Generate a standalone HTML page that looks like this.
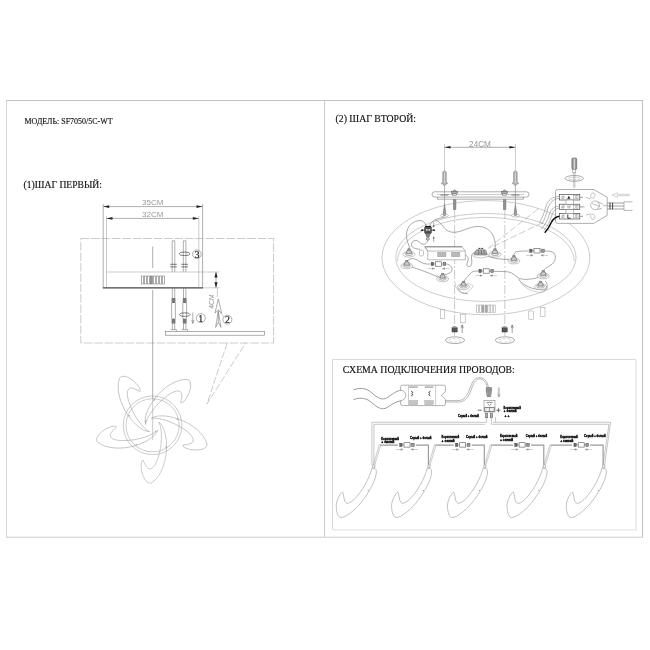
<!DOCTYPE html>
<html lang="ru">
<head>
<meta charset="utf-8">
<title>SF7050/5C-WT</title>
<style>
html,body{margin:0;padding:0;background:#fff;}
body{width:650px;height:650px;overflow:hidden;font-family:"Liberation Serif",serif;}
svg{display:block;position:absolute;left:0;top:0;}
svg{filter:grayscale(1);}
.ser{font-family:"Liberation Serif",serif;fill:#111;stroke:#111;stroke-width:.15;}
.cad{font-family:"Liberation Sans",sans-serif;fill:#999;}
.lbl{font-family:"Liberation Sans",sans-serif;font-weight:bold;fill:#000;stroke:#000;stroke-width:.3;}
.l{fill:none;stroke:#777;stroke-width:.6;}
.ll{fill:none;stroke:#999;stroke-width:.5;}
.d{fill:none;stroke:#444;stroke-width:.7;}
.k{fill:#222;stroke:none;}
</style>
</head>
<body>
<svg width="650" height="650" viewBox="0 0 650 650">
<defs>
  <path id="petal" d="M 6.2,-3.3 C 11,0 14,10 14,22 C 14,36 8,52 -1,57.5 C -6,60 -11.5,50 -11.5,40 C -11.5,37 -10.5,35 -9.6,34.8 C -8,38 -6,43 -3,43.5 C 2,44 6,34 8,22 C 9.5,12 9,2 6.2,-3.3 Z"/>
  <path id="swoosh" d="M 0,0 C 2,0.5 3,2 2.6,5 C 2,12 -4,24 -13.5,35.6 C -20,43 -28,49.5 -32.7,49.5 C -36,49.5 -37.5,43 -37.4,37.2 C -37,31 -33,25 -31.2,24.1 C -30.5,25 -30,28 -29.5,31 C -29,34 -27.5,35.5 -25.9,35.3 C -21,34.5 -14,26 -8.9,17.2 C -5,10 -2.5,4 -1.9,0.3 Z"/>
</defs>

<!-- ===== FRAME ===== -->
<g id="frame" fill="none" stroke-width="1">
  <line x1="6" y1="100.5" x2="643" y2="100.5" stroke="#c2c2c2"/>
  <line x1="6.5" y1="100.5" x2="6.5" y2="537.5" stroke="#d6d6d6"/>
  <line x1="642.5" y1="100.5" x2="642.5" y2="537.5" stroke="#bebebe"/>
  <line x1="6" y1="537.2" x2="643" y2="537.2" stroke="#cdcdcd"/>
  <line x1="324.5" y1="100.5" x2="324.5" y2="537.2" stroke="#cacaca"/>
  <path d="M332.5,530 V359.5 H636" stroke="#dadada"/>
  <path d="M636,359.5 V529.9 H332.5" stroke="#e6e6e6" stroke-width="1.3"/>
</g>

<!-- ===== TITLES ===== -->
<text class="ser" x="24.5" y="124" font-size="8.6" textLength="88" lengthAdjust="spacingAndGlyphs">МОДЕЛЬ: SF7050/5C-WT</text>
<text class="ser" x="23.6" y="188" font-size="10" textLength="78.4" lengthAdjust="spacingAndGlyphs">(1)ШАГ ПЕРВЫЙ:</text>
<text class="ser" x="335.5" y="122" font-size="10" textLength="80.5" lengthAdjust="spacingAndGlyphs">(2) ШАГ ВТОРОЙ:</text>
<text class="ser" x="342.8" y="373" font-size="10" textLength="172" lengthAdjust="spacingAndGlyphs">СХЕМА ПОДКЛЮЧЕНИЯ ПРОВОДОВ:</text>

<!-- ===== STEP 1 ===== -->
<g id="step1">
  <!-- dimension text -->
  <text class="cad" x="152.7" y="205" font-size="8" text-anchor="middle">35CM</text>
  <text class="cad" x="152.7" y="216.8" font-size="8" text-anchor="middle">32CM</text>
  <!-- 35cm dim -->
  <line class="l" x1="103.2" y1="206.6" x2="202.5" y2="206.6"/>
  <path class="k" d="M103.2,206.6 l6,-1.3 v2.6z M202.5,206.6 l-6,-1.3 v2.6z"/>
  <line class="l" x1="106.5" y1="218.4" x2="198.8" y2="218.4"/>
  <path class="k" d="M106.5,218.4 l6,-1.3 v2.6z M198.8,218.4 l-6,-1.3 v2.6z"/>
  <!-- housing verticals -->
  <path class="l" d="M103.2,204 V287.6 M202.6,204 V287.6"/>
  <path class="ll" d="M106.5,216 V287 M198.8,216 V287"/>
  <!-- housing top/bottom -->
  <line class="ll" x1="106.5" y1="272" x2="219.5" y2="272"/>
  <line x1="102.8" y1="287.8" x2="203" y2="287.8" stroke="#444" stroke-width="1.2"/>
  <line class="ll" x1="203" y1="287.8" x2="219.5" y2="287.8"/>
  <!-- vertical 4cm dim arrows -->
  <line class="l" x1="216" y1="272" x2="216" y2="287.8"/>
  <path class="k" d="M216,272 l-1.6,5.6 h3.2z M216,287.8 l-1.6,-5.6 h3.2z"/><path class="ll" d="M217.4,288 V297" stroke="#bbb"/><path class="ll" d="M219.6,311.5 L224,317" stroke="#999"/>
  <!-- vent slots -->
  <g class="l" stroke-width=".5" stroke="#a0a0a0">
    <rect x="141.5" y="276" width="2" height="8"/><rect x="144.5" y="276" width="2" height="8"/><rect x="147.5" y="276" width="2" height="8"/>
    <rect x="150.3" y="276" width="2" height="8" fill="#999"/><rect x="153.3" y="276" width="2" height="8"/><rect x="156.3" y="276" width="2" height="8"/>
    <rect x="159.3" y="276" width="2" height="8"/><rect x="162.3" y="276" width="2" height="8"/>
  </g>
  <!-- dashed rectangle -->
  <rect class="ll" x="80.8" y="238.5" width="192.8" height="104.5" stroke-dasharray="8.6 1.8" stroke="#909090"/>
  <!-- centre line -->
  <line class="l" x1="152.7" y1="246.5" x2="152.7" y2="268"/>
  <line class="l" x1="152.7" y1="290" x2="152.7" y2="399" stroke-width=".5" stroke="#999"/><line class="ll" x1="152.7" y1="399" x2="152.7" y2="440" stroke="#bbb" stroke-width=".4"/>
  <!-- upper rods -->
  <path class="l" d="M172.2,240.8 V271.8 M174.8,240.8 V271.8 M172.2,240.8 H174.8 M183.3,240.8 V271.8 M185.9,240.8 V271.8 M183.3,240.8 H185.9"/>
  <path class="d" d="M170.2,264.3 H176.8 M170.2,266.9 H176.8 M181.3,264.3 H187.9 M181.3,266.9 H187.9"/>
  <!-- rotate ellipse + 3 -->
  <ellipse class="d" cx="184.6" cy="253.8" rx="5.4" ry="1.8" stroke-width=".6"/>
  <circle class="l" cx="196.9" cy="254.2" r="4.3" fill="#fff"/>
  <text class="ser" x="196.9" y="257.6" font-size="10" text-anchor="middle">3</text>
  <!-- lower rods -->
  <g id="rodlow">
    <path class="l" d="M172.3,288 V298 M174.7,288 V298 M171.6,303 V318.6 M175.4,303 V318.6 M172.3,323.5 V329.6 M174.7,323.5 V329.6 M170.6,329.6 H176.4 V331.3"/>
    <rect x="171.6" y="298" width="3.8" height="5" fill="#777"/>
    <rect x="171.6" y="318.6" width="3.8" height="5" fill="#777"/>
  </g>
  <use href="#rodlow" x="11.2"/>
  <!-- ellipse + arrow + 1 -->
  <ellipse class="d" cx="184.7" cy="314.6" rx="5.4" ry="1.8" stroke-width=".6"/>
  <path class="l" d="M192.8,312.5 V323 M192.8,323.5 l-1.1,-3.6 M192.8,323.5 l1.1,-3.6"/>
  <circle class="l" cx="200.8" cy="318.1" r="4.5"/>
  <text class="ser" x="200.8" y="321.5" font-size="10" text-anchor="middle">1</text>
  <circle class="l" cx="227.4" cy="319.6" r="4.5"/>
  <text class="ser" x="227.4" y="323" font-size="10" text-anchor="middle">2</text>
  <!-- 4CM rotated -->
  <text class="cad" transform="translate(214.3,308.8) rotate(-90)" font-size="6.8" fill="#aaa">4CM</text>
  <!-- up arrow (feathered) -->
  <path class="l" stroke="#888" d="M218.3,298.8 L215,313 L218.3,310 L221.6,313 Z M218.3,310 V322.5 M218.3,311.5 L215.6,327.4 L218.3,322.5 L221,327.4 Z"/>
  <!-- mounting plate -->
  <rect class="l" x="165.4" y="331.4" width="99.2" height="3.8" stroke="#a0a0a0"/>
  <!-- callout -->
  <path class="ll" d="M227.2,343 L207,404 L245.5,343" stroke-dasharray="7 2" stroke="#999"/>
</g>

<!-- flower -->
<g id="flower" class="ll" transform="translate(152.6,425.3)" stroke="#8c8c8c">
  <circle r="29.3"/><circle r="26.6"/>
  <g id="pt"><use href="#petal"/><circle cx="13.4" cy="21.6" r=".55" fill="#777" stroke="none"/></g>
  <use href="#pt" transform="rotate(72)"/>
  <use href="#pt" transform="rotate(144)"/>
  <use href="#pt" transform="rotate(216)"/>
  <use href="#pt" transform="rotate(288)"/>
  <circle cx="-6.8" cy="-4.3" r=".6" fill="#777" stroke="none"/><circle cx="2.8" cy="6.2" r=".5" fill="#999" stroke="none"/><circle cx="0" cy=".5" r=".4" fill="#999" stroke="none"/>
</g>


<!-- ===== STEP 2 ===== -->
<defs>
  <g id="standoff">
    <ellipse cx="0" cy="1.4" rx="6" ry="2.9" fill="#fff" stroke="#8a8a8a" stroke-width=".5"/>
    <ellipse cx="0" cy="1" rx="4" ry="1.8" fill="#eee" stroke="#777" stroke-width=".5"/>
    <path d="M-2.6,.8 L-2,-2.2 Q0,-3.4 2,-2.2 L2.6,.8 Z" fill="#ccc" stroke="#555" stroke-width=".55"/>
    <path d="M-1.2,-2.6 V-4 H1.2 V-2.6" fill="#999" stroke="#555" stroke-width=".5"/>
  </g>
  <g id="conn">
    <rect x="-7.3" y="-1.7" width="2.4" height="3.4" fill="#666" stroke="#444" stroke-width=".4"/>
    <rect x="-3" y="-2.2" width="6" height="4.4" fill="#fff" stroke="#555" stroke-width=".6"/>
    <rect x="4.7" y="-1.7" width="2.6" height="3.4" fill="#999" stroke="#444" stroke-width=".4"/>
    <path d="M-4.9,0 H-3 M3,0 H4.7" stroke="#555" stroke-width=".6"/>
    <path d="M-11,4.6 H-4 M-4,4.6 l-2.2,-.8 v1.6z M11,4.6 H4 M4,4.6 l2.2,-.8 v1.6z" stroke="#999" stroke-width=".45" fill="#777"/>
  </g>
  <g id="plug">
    <path d="M-1.7,.6 Q0,-1 1.7,.6 V10 L3.1,12.2 L1.2,12.8 L0,14.6 L-1.2,12.8 L-3.1,12.2 L-1.7,10 Z" fill="#b8b8b8" stroke="#777" stroke-width=".6"/>
    <path d="M0,1 V11" stroke="#e4e4e4" stroke-width="1"/>
    <path d="M-1.7,2.5 H1.7 M-1.7,4.5 H1.7 M-1.7,6.5 H1.7 M-1.7,8.5 H1.7" stroke="#999" stroke-width=".4"/>
  </g>
  <g id="screwup">
    <path d="M0,-.6 L-1.2,7 V9.6 H1.2 V7 Z" fill="#999" stroke="#666" stroke-width=".5"/>
    <ellipse cx="0" cy="10.4" rx="4.2" ry="1.4" fill="#fff" stroke="#888" stroke-width=".5"/>
    <path d="M-1.4,10 H1.4" stroke="#555" stroke-width=".8"/>
  </g>
  <g id="bolt">
    <path d="M-1.8,-6 Q0,-9 1.8,-6 Z" fill="#ccc" stroke="#666" stroke-width=".5"/>
    <rect x="-2.9" y="-6" width="5.8" height="2.2" fill="#aaa" stroke="#555" stroke-width=".5"/>
    <rect x="-2.1" y="-3.8" width="4.2" height="1.8" fill="#ddd" stroke="#666" stroke-width=".5"/>
  </g>
  <g id="nutlow">
    <rect x="-2.6" y="-2.2" width="5.2" height="4.2" fill="#555" stroke="#333" stroke-width=".5"/>
    <path d="M-2.6,-2.2 L-1.6,-3.2 H1.6 L2.6,-2.2" fill="#999" stroke="#444" stroke-width=".4"/>
    <path d="M7.6,3 V-5 M7.6,-5.2 l-1.2,3.4 M7.6,-5.2 l1.2,3.4" fill="none" stroke="#666" stroke-width=".6"/>
    <ellipse cx=".4" cy="10.2" rx="9.6" ry="3.4" fill="none" stroke="#777" stroke-width=".6"/>
    <ellipse cx=".4" cy="10.4" rx="6.4" ry="1.8" fill="none" stroke="#aaa" stroke-width=".5" stroke-dasharray="3 1.5"/>
  </g>
</defs>
<g id="step2">
  <!-- dim 24cm -->
  <text class="cad" x="480" y="146.6" font-size="8.2" text-anchor="middle">24CM</text>
  <line class="l" x1="444.5" y1="147.3" x2="515.4" y2="147.3"/>
  <path class="k" d="M444.5,147.3 l6,-1.3 v2.6z M515.4,147.3 l-6,-1.3 v2.6z"/>
  <path class="ll" d="M444.5,144 V172 M515.4,144 V172 M444.5,186 V205 M515.4,186 V205"/>
  <!-- dish ellipses -->
  <ellipse class="ll" cx="485.9" cy="257.7" rx="103.9" ry="57.1" stroke="#a4a4a4" stroke-width=".5"/>
  <ellipse class="ll" cx="485.9" cy="257.5" rx="90.1" ry="44" stroke="#a8a8a8" stroke-width=".5"/>
  <path class="ll" d="M397.6,261 A88.3,43.6 0 0 1 574.2,261" stroke="#b0b0b0" stroke-width=".45"/>
  <!-- pegs -->
  <g class="ll" fill="#fff" stroke="#888">
    <rect x="440.5" y="309.8" width="4.3" height="8.7"/>
    <rect x="460.5" y="314.2" width="4.7" height="8.6"/>
    <rect x="528.8" y="311" width="4.9" height="8.5"/>
    <rect x="540.2" y="307.7" width="4.8" height="8.6"/>
  </g>
  <!-- vent -->
  <g class="ll" stroke="#888">
    <rect x="476.6" y="305" width="2" height="7.6"/><rect x="479.3" y="305" width="2" height="7.6"/><rect x="482" y="305" width="2" height="7.6" fill="#aaa"/>
    <rect x="485.2" y="305" width="2" height="7.6" fill="#aaa"/><rect x="487.9" y="305" width="2" height="7.6"/><rect x="490.6" y="305" width="2" height="7.6"/><rect x="493.3" y="305" width="2" height="7.6"/>
  </g>
  <!-- dash-dot verticals -->
  <path class="ll" d="M454.6,210 V336 M504.8,210 V336" stroke-dasharray="9 2 2 2" stroke="#808080"/>
  <!-- bracket bar -->
  <path d="M437.5,197 V199.2 H523.4 V197" class="l" fill="#fff"/>
  <rect x="432" y="191.8" width="97" height="5.3" rx="2.6" ry="2.6" fill="#fff" class="l"/>
  <path class="ll" d="M437,194.5 H524"/><path d="M440.4,195 H448.4 M511.4,195 H519.4" stroke="#555" stroke-width=".8"/>
  <path class="ll" d="M444.6,186 V205 M515.4,186 V205" stroke="#999"/>
  <!-- bolts -->
  <use href="#bolt" x="454.6" y="197.2"/>
  <use href="#bolt" x="504.6" y="197.2"/>
  <rect x="453.2" y="199.4" width="2.8" height="10.4" fill="#929292" stroke="#777" stroke-width=".4"/>
  <rect x="503.2" y="199.4" width="2.8" height="10.4" fill="#929292" stroke="#777" stroke-width=".4"/>
  <!-- plugs -->
  <use href="#plug" x="444.5" y="171.4"/>
  <use href="#plug" x="515.4" y="171.4"/>
  <use href="#screwup" x="444.5" y="205.2"/>
  <use href="#screwup" x="515.4" y="205.2"/>
  <!-- nuts below -->
  <use href="#nutlow" x="454.6" y="330"/>
  <use href="#nutlow" x="504.6" y="330"/>

  <!-- callout dashed -->
  <path class="ll" d="M538,209 L486,250 M542.5,222.7 L490,248" stroke-dasharray="7 2.5" stroke="#a0a0a0"/>

  <!-- wires inside -->
  <g fill="none" stroke="#7c7c7c" stroke-width=".65">
    <!-- from screw to connector, loop left to standoff -->
    <path d="M444.3,217.4 C440,218 437,218.8 435.1,219.8 C432.5,221 430.5,223 429.6,226"/>
    <path d="M426.4,226 C425,222.6 423,220.6 420,220.6 C414,220.6 408.5,225 406.9,231 C405.8,236 407,242 409.2,246 V250"/>
    <path d="M435.1,219.8 C438.5,220.5 441,224 444.3,228 C447.5,231.6 452,233 457,232 C465,230.5 472,225.4 481,226.6 C489,228 494,234 495,242 C495.4,246 495.2,248 495.2,250"/>
    <!-- driver wires -->
    <path d="M427.6,240.3 C427,243.5 425,244.8 422,244 C419.5,243 418.5,240.6 416,240.4 C413,240.2 411.2,242.5 411.6,245.4 C412,248 416,248.8 420,249.4"/>
    <path d="M465.3,255 C468,256 469,259 467.5,262 C466,265 467,267 469.5,266.5 C472,266 472,262 471.5,258 C471,254 474,251 478,251.5"/>
    <!-- standoff2 to connector1 -->
    <path d="M406.8,262 C409,258 414,257.5 418,260.5 C422,263.5 426,264.5 431,264"/>
    <path d="M445.8,264 C449,264 452,266 452,269 C452,273 447,274.5 442.6,275"/>
    <path d="M410,266.5 C418,269 430,273 440,278"/>
    <!-- connector2 -->
    <path d="M463.5,283 C465,278 468,277 470,274 C471.5,271.5 474,271 478.8,271"/>
    <path d="M493.6,271.4 C499,271.4 505,271.4 509,272 C513,273 515,276 518.5,278 C523,280.4 533,279.5 541,276.5"/>
    <path d="M458,287.5 C459,292 463,294 468,293.5"/>
    <!-- connector3 -->
    <path d="M513.9,257 C513.5,254 515,251.5 518,251.3 C522,251 526,251 529.5,251"/>
    <path d="M544.4,251 C548,251 552,251 554,253 C556.5,256 555.5,262 551,265 C547,267.5 543.5,269 543,272"/>
    <path d="M486,255.5 C492,258.5 502,259.5 509.5,259.5"/>
    <path d="M518.5,279 C522,285 532,290 545,290 C548,288 548,283 545,281"/>
  </g>
  <g fill="none" stroke="#999" stroke-width=".45">
    <path d="M455.5,283 C455,287 457.5,291.5 463,293.5 C467,293 471,290 473,286 C471,284.5 469,283.5 467,283"/>
    <path d="M520.5,282.5 C524,287 531,291.5 540,292.5 C545,292.5 547.5,289.5 547,286"/>
    <path d="M436.5,274.5 C438,277 441,279.5 444.5,280.8"/>
  </g>
  <!-- driver box -->
  <g>
    <path d="M424.7,246.6 H462 L465.3,251 V259.8 H427.8 V251 Z" fill="#fff" stroke="#858585" stroke-width=".55"/>
    <path d="M424.7,246.6 L427.8,251 H465.3" fill="none" stroke="#858585" stroke-width=".55"/><path d="M425.5,246.9 H462" stroke="#666" stroke-width=".7"/>
    <rect x="437.6" y="252.2" width="8.4" height="4.6" fill="#b8b8b8" stroke="#999" stroke-width=".4"/>
    <rect x="451.5" y="252.2" width="8.4" height="4.6" fill="#b8b8b8" stroke="#999" stroke-width=".4"/>
    <rect x="419.5" y="250" width="4" height="6" rx="1.5" fill="#fff" stroke="#888" stroke-width=".5"/>
  </g>
  <!-- standoffs -->
  <use href="#standoff" x="409" y="252.8"/>
  <use href="#standoff" x="406.8" y="264.5"/>
  <use href="#standoff" x="442.6" y="277.4"/>
  <use href="#standoff" x="463.5" y="285.3"/>
  <use href="#standoff" x="495" y="252.8"/>
  <use href="#standoff" x="513.9" y="259.6"/>
  <use href="#standoff" x="543.3" y="274.6"/>
  <use href="#standoff" x="540.5" y="285.3"/>
  <!-- inline connectors -->
  <use href="#conn" x="438.5" y="264"/>
  <use href="#conn" x="486.2" y="271"/>
  <use href="#conn" x="537" y="250.8"/>
  <!-- dark connector top-left -->
  <g>
    <rect x="424.6" y="226.8" width="6.8" height="6.6" rx="1" fill="#555" stroke="#222" stroke-width=".5"/>
    <path d="M425,226.4 H431" stroke="#111" stroke-width="1"/>
    <path d="M426,229 h1.6 v1.8 h-1.6z M428.6,229 h1.6 v1.8 h-1.6z" fill="#ddd"/>
    <path d="M425.6,233.4 L426.6,236.8 H429.2 L430.2,233.4 Z" fill="#888" stroke="#333" stroke-width=".4"/>
    <circle cx="427.8" cy="238.8" r="1.5" fill="#ccc" stroke="#555" stroke-width=".6"/>
    <path d="M421.4,230.2 H424.6 M431.4,230.2 H434.6" stroke="#111" stroke-width=".7" fill="none"/>
    <path d="M420.4,230.2 l2.2,-1.1 v2.2z M435.6,230.2 l-2.2,-1.1 v2.2z" fill="#111"/>
    <path d="M433.7,222.4 V227 M433.7,242 V237" stroke="#777" stroke-width=".6" fill="none"/>
    <path d="M433.7,227.8 l-1,-2.4 h2z M433.7,236.2 l-1,2.4 h2z" fill="#666"/>
  </g>
  <!-- terminal block in lamp -->
  <g>
    <ellipse cx="480.6" cy="255.2" rx="8" ry="2.6" fill="#fff" stroke="#999" stroke-width=".5"/>
    <path d="M474.6,253.2 L476.6,249.8 H485.4 L486.8,253.2 V255 H474.6 Z" fill="#b4b4b4" stroke="#555" stroke-width=".5"/>
    <path d="M478.4,248.4 H480.4 M481.2,248.4 H483.2" stroke="#222" stroke-width=".9"/>
    <path d="M478.6,250 V254.8 M481.4,250 V254.8 M484,250 V254.8" stroke="#444" stroke-width=".5" fill="none"/>
    <path d="M474.6,253.2 H486.8" stroke="#666" stroke-width=".4"/>
  </g>

  <!-- junction box -->
  <g>
    <path d="M557.5,189.5 H593.7 L607.2,197.2 V215.3 L593.7,223.4 H557.5 Q555.5,223.4 555.5,221.4 V191.5 Q555.5,189.5 557.5,189.5 Z" fill="#fff" stroke="#777" stroke-width=".6"/>
    <!-- wires to left -->
    <g fill="none" stroke="#888" stroke-width=".6">
      <path d="M559.5,196.4 C552,196.8 548,200 546,206 C544.5,212 542.5,218 539.5,222.5"/>
      <path d="M559.5,198.4 C554,198.6 550,202 548,208 C546.5,214 544.5,220 541.8,224"/>
      <path d="M559.5,206 C554,206.4 551,209 549.5,214 C548,220 545,225 541.5,229"/>
      <path d="M559.5,208 C555.5,208.6 553,211 551.5,216 C550,222 547,227 543.8,230.5"/>
    </g>
    <path d="M560,216.3 C555,216.6 553,219 551,223 C549,227.5 547,230.5 544.7,232.8" fill="none" stroke="#111" stroke-width="1.5"/>
    <!-- terminals -->
    <g fill="#fff" stroke="#333" stroke-width=".6">
      <rect x="559.5" y="194.6" width="20.3" height="5.4"/>
      <rect x="559.5" y="204.2" width="20.3" height="5.4"/>
      <rect x="559.5" y="213.6" width="20.3" height="5.4"/>
      <rect x="566" y="200" width="7.4" height="4.2" stroke="#777" stroke-width=".5"/>
      <rect x="566" y="209.6" width="7.4" height="4" stroke="#777" stroke-width=".5"/>
    </g>
    <g><circle cx="563" cy="197.3" r="1.3" fill="none" stroke="#777" stroke-width=".5"/><path d="M561.8,198.70000000000002 L564.2,195.9" stroke="#777" stroke-width=".4"/><rect x="573.4" y="195.70000000000002" width="1.8" height="3.2" fill="none" stroke="#888" stroke-width=".45"/><rect x="576.2" y="195.70000000000002" width="1.8" height="3.2" fill="none" stroke="#888" stroke-width=".45"/><circle cx="563" cy="206.9" r="1.3" fill="none" stroke="#777" stroke-width=".5"/><path d="M561.8,208.3 L564.2,205.5" stroke="#777" stroke-width=".4"/><rect x="573.4" y="205.3" width="1.8" height="3.2" fill="none" stroke="#888" stroke-width=".45"/><rect x="576.2" y="205.3" width="1.8" height="3.2" fill="none" stroke="#888" stroke-width=".45"/><circle cx="563" cy="216.3" r="1.3" fill="none" stroke="#777" stroke-width=".5"/><path d="M561.8,217.70000000000002 L564.2,214.9" stroke="#777" stroke-width=".4"/><rect x="573.4" y="214.70000000000002" width="1.8" height="3.2" fill="none" stroke="#888" stroke-width=".45"/><rect x="576.2" y="214.70000000000002" width="1.8" height="3.2" fill="none" stroke="#888" stroke-width=".45"/><path d="M567.2,198.8 L568.8,195.8 L570.4,198.8 Z" fill="#222"/><path d="M566.8,206.2 H571 M567.4,207.8 H570.4" stroke="#777" stroke-width=".6"/><path d="M567.8,214.4 V218.2 H570.6" stroke="#222" stroke-width=".9" fill="none"/></g>
    <path d="M579.8,197.3 H583 M579.8,206.9 H584.5 M579.8,216.3 H583" stroke="#777" stroke-width=".7"/>
    <!-- right inside -->
    <circle cx="595" cy="205.3" r="4.4" fill="none" stroke="#888" stroke-width=".55"/>
    <ellipse cx="592.8" cy="195.6" rx="2.1" ry="2.8" transform="rotate(25 592.8 195.6)" fill="none" stroke="#999" stroke-width=".5"/>
    <ellipse cx="592.8" cy="216.8" rx="2.1" ry="2.8" transform="rotate(-25 592.8 216.8)" fill="none" stroke="#999" stroke-width=".5"/>
    <path d="M586,197.5 L590.5,198.6 M586,215 L590.5,213.8 M592,203.5 L600,206.5 M597.5,201.8 L603,204 M597,209.5 L602,208.3 M603,205.6 H607.2" stroke="#888" stroke-width=".55" fill="none"/>
    <!-- cable right -->
    <path d="M607.2,203 H624 M607.2,206 H624 M607.2,209 H624" stroke="#666" stroke-width=".6"/>
    <path d="M610,202.6 V209.4 M612.6,202.6 V209.4" stroke="#333" stroke-width=".9"/>
    <path d="M632.5,201.8 H624 V210.4 H632.5" fill="none" stroke="#888" stroke-width=".6"/>
    <!-- arrow -->
    <path d="M629.8,194.3 H616.8 M629.8,195.7 H616.8 M618,192.6 L612.2,195 L618,197.4" fill="none" stroke="#999" stroke-width=".45"/>
    <!-- screwdriver -->
    <rect x="571.9" y="158" width="4.8" height="11.4" rx="1.2" fill="#999" stroke="#555" stroke-width=".6"/>
    <path d="M574.3,158.4 V169" stroke="#ddd" stroke-width="1.2"/>
    <rect x="572.8" y="169.4" width="3" height="3.4" fill="#fff" stroke="#777" stroke-width=".5"/>
    <path d="M573.7,172.8 V187.6 M574.9,172.8 V187.6" stroke="#888" stroke-width=".5"/>
    <ellipse cx="574.3" cy="178.4" rx="9.2" ry="2.9" fill="none" stroke="#777" stroke-width=".6"/>
    <ellipse cx="574.3" cy="178.6" rx="6" ry="1.4" fill="none" stroke="#aaa" stroke-width=".5"/>
  </g>
</g>

<!-- ===== WIRING ===== -->
<g id="wiring">
  <g fill="none" stroke="#999" stroke-width="1">
    <path d="M353.5,389.8 C361,387 367,388.5 372,393 C377,397.5 382,401 387.5,397.5 C392.5,394 396.5,390.6 401.5,390.2"/>
    <path d="M353.5,399.6 C361,396.8 367,398.3 372,402.8 C377,407.3 382,410.8 387.5,407.3 C392.5,403.8 396.5,401.2 401.5,400.8"/>
  </g>
  <g>
    <path d="M402.5,385.2 H443.8 Q445.4,385.2 445.4,386.8 V391.5 L441.4,395.4 L445.4,399.3 V404 Q445.4,405.6 443.8,405.6 H402.5 Q400.6,405.6 400.6,404 V400.6 A5.2,5.2 0 0 0 400.6,390.2 V386.8 Q400.6,385.2 402.5,385.2 Z" fill="#fff" stroke="#808080" stroke-width=".6"/>
    <path d="M408.5,385.2 V405.6 M435.6,385.2 V405.6" stroke="#999" stroke-width=".5"/>
    <rect x="409.2" y="386.2" width="8.6" height="1.8" fill="#bbb"/>
    <rect x="424.8" y="386.2" width="8.6" height="1.8" fill="#bbb"/>
    <rect x="409.2" y="400.4" width="8.6" height="4.4" fill="#c4c4c4" stroke="#aaa" stroke-width=".4"/>
    <rect x="424.8" y="400.4" width="8.6" height="4.4" fill="#c4c4c4" stroke="#aaa" stroke-width=".4"/>
    <path d="M411.2,391.2 C413,392 413,392.8 412,393.6 C413,394.4 413,395.2 411.2,396 M430.4,391.2 C428.6,392 428.6,392.8 429.6,393.6 C428.6,394.4 428.6,395.2 430.4,396" stroke="#222" stroke-width=".9" fill="none"/>
  </g>
  <g fill="none" stroke="#888" stroke-width=".6">
    <path d="M445.3,400.6 H458 C466,400.6 468.5,392 471,385.5 C473,380 476,377.6 479.7,377.6 C484,377.6 487.5,381 488.4,387.5"/>
    <path d="M445.3,402 H458.5 C467.5,402 470,393 472.4,386.5 C474.2,381.6 476.6,379 479.7,379 C483,379 486.2,382 487.2,387.5"/>
  </g>
  <path d="M486.4,387.6 H491.4 V391.6 L490.6,396.6 H487.2 L486.4,391.6 Z" fill="#aaa" stroke="#555" stroke-width=".6"/>
  <path d="M486.6,389.2 H491.2 M486.6,390.8 H491.2 M488.9,391.6 V396" stroke="#555" stroke-width=".45"/>
  <path d="M498.3,387.5 V396.6 M499.3,387.5 V396.6 M498.8,397.2 l-1.3,-3.4 M498.8,397.2 l1.3,-3.4" fill="none" stroke="#888" stroke-width=".5"/>
  <g>
    <rect x="484" y="400.4" width="11" height="11.6" fill="#fff" stroke="#777" stroke-width=".55"/>
    <rect x="484.8" y="407.4" width="9.4" height="4" fill="#eee" stroke="#444" stroke-width=".6"/>
    <path d="M489.5,407.4 V411.4" stroke="#444" stroke-width=".5"/>
    <path d="M486.4,402.4 H492.6 M487.6,403.8 L489.5,405.6 L491.4,403.8" fill="none" stroke="#444" stroke-width=".6"/>
    <path d="M477.8,410.2 H481.8 M496.4,410.2 H500.4 M498.4,408.2 V412.2" stroke="#333" stroke-width=".7"/>
    <rect x="485.4" y="413.4" width="2.4" height="4.4" fill="#aaa" stroke="#555" stroke-width=".45"/>
    <rect x="490.2" y="413.4" width="2.4" height="4.4" fill="#aaa" stroke="#555" stroke-width=".45"/>
  </g>
  <text class="lbl" x="458" y="417" font-size="3.4" textLength="21" lengthAdjust="spacingAndGlyphs">Серый + белый</text>
  <text class="lbl" x="503.6" y="408.9" font-size="3.4" textLength="17.3" lengthAdjust="spacingAndGlyphs">Коричневый</text>
  <text class="lbl" x="503.6" y="412.4" font-size="3.4">+ синий</text>
  <text class="lbl" x="504.5" y="417" font-size="3.4" fill="#999">+ +</text>
  <g fill="none" stroke="#999" stroke-width=".55">
    <path d="M486.6,417.8 V422.3 H371.9 V464.8"/>
    <path d="M485,424.3 H373.9 V464.8"/>
    <path d="M491.4,417.8 V424.3 H609 L603,464.8"/>
    <path d="M493,422.3 H610.6 L604.6,464.8"/>
    <path d="M495.6,417 V422.3"/>
  </g>
  <use href="#swoosh" x="373.7" y="468" fill="#fff" stroke="#858585" stroke-width=".5"/>
  <rect x="372.59999999999997" y="464.8" width="2.2" height="3.2" rx=".8" fill="#fff" stroke="#666" stroke-width=".5"/>
  <circle cx="368.2" cy="490.5" r=".5" fill="#777"/>
  <use href="#swoosh" x="429.0" y="468" fill="#fff" stroke="#858585" stroke-width=".5"/>
  <rect x="427.9" y="464.8" width="2.2" height="3.2" rx=".8" fill="#fff" stroke="#666" stroke-width=".5"/>
  <circle cx="423.5" cy="490.5" r=".5" fill="#777"/>
  <use href="#swoosh" x="484.9" y="468" fill="#fff" stroke="#858585" stroke-width=".5"/>
  <rect x="483.79999999999995" y="464.8" width="2.2" height="3.2" rx=".8" fill="#fff" stroke="#666" stroke-width=".5"/>
  <circle cx="479.4" cy="490.5" r=".5" fill="#777"/>
  <use href="#swoosh" x="544.4" y="468" fill="#fff" stroke="#858585" stroke-width=".5"/>
  <rect x="543.3" y="464.8" width="2.2" height="3.2" rx=".8" fill="#fff" stroke="#666" stroke-width=".5"/>
  <circle cx="538.9" cy="490.5" r=".5" fill="#777"/>
  <use href="#swoosh" x="603.7" y="468" fill="#fff" stroke="#858585" stroke-width=".5"/>
  <rect x="602.6" y="464.8" width="2.2" height="3.2" rx=".8" fill="#fff" stroke="#666" stroke-width=".5"/>
  <circle cx="598.2" cy="490.5" r=".5" fill="#777"/>
  <path d="M373.4,464.8 L379.29999999999995,444.5 M374.8,464.8 L380.7,445.2" fill="none" stroke="#999" stroke-width=".5"/>
  <path d="M379.9,445.1 H428.4 V464.8" fill="none" stroke="#9a9a9a" stroke-width="1.15"/>
  <rect x="398" y="442.5" width="18" height="5" fill="#fff"/>
  <use href="#conn" x="407" y="444.9"/>
  <text class="lbl" x="381.3" y="439.5" font-size="3.4" textLength="17.6" lengthAdjust="spacingAndGlyphs">Коричневый</text>
  <text class="lbl" x="381.3" y="443.2" font-size="3.4">+ синий</text>
  <text class="lbl" x="410" y="438.8" font-size="3.4" textLength="21.5" lengthAdjust="spacingAndGlyphs">Серый + белый</text>
  <path d="M428.7,464.8 L434.59999999999997,444.5 M430.1,464.8 L436.0,445.2" fill="none" stroke="#999" stroke-width=".5"/>
  <path d="M435.2,445.1 H484.29999999999995 V464.8" fill="none" stroke="#9a9a9a" stroke-width="1.15"/>
  <rect x="453.7" y="442.5" width="18" height="5" fill="#fff"/>
  <use href="#conn" x="462.7" y="444.9"/>
  <text class="lbl" x="441.6" y="437.9" font-size="3.4" textLength="17.6" lengthAdjust="spacingAndGlyphs">Коричневый</text>
  <text class="lbl" x="441.6" y="441.59999999999997" font-size="3.4">+ синий</text>
  <text class="lbl" x="466" y="437.5" font-size="3.4" textLength="21.5" lengthAdjust="spacingAndGlyphs">Серый + белый</text>
  <path d="M484.59999999999997,464.8 L490.49999999999994,444.5 M486.0,464.8 L491.9,445.2" fill="none" stroke="#999" stroke-width=".5"/>
  <path d="M491.09999999999997,445.1 H543.8 V464.8" fill="none" stroke="#9a9a9a" stroke-width="1.15"/>
  <rect x="513.1" y="442.5" width="18" height="5" fill="#fff"/>
  <use href="#conn" x="522.1" y="444.9"/>
  <text class="lbl" x="499.9" y="437.2" font-size="3.4" textLength="17.6" lengthAdjust="spacingAndGlyphs">Коричневый</text>
  <text class="lbl" x="499.9" y="440.9" font-size="3.4">+ синий</text>
  <text class="lbl" x="525.7" y="437.2" font-size="3.4" textLength="21.5" lengthAdjust="spacingAndGlyphs">Серый + белый</text>
  <path d="M544.1,464.8 L550.0,444.5 M545.5,464.8 L551.4,445.2" fill="none" stroke="#999" stroke-width=".5"/>
  <path d="M550.6,445.1 H603.1 V464.8" fill="none" stroke="#9a9a9a" stroke-width="1.15"/>
  <rect x="572.2" y="442.5" width="18" height="5" fill="#fff"/>
  <use href="#conn" x="581.2" y="444.9"/>
  <text class="lbl" x="560.2" y="438.3" font-size="3.4" textLength="17.6" lengthAdjust="spacingAndGlyphs">Коричневый</text>
  <text class="lbl" x="560.2" y="442.0" font-size="3.4">+ синий</text>
  <text class="lbl" x="584.1" y="437.2" font-size="3.4" textLength="21.5" lengthAdjust="spacingAndGlyphs">Серый + белый</text>
</g>
</svg>
</body>
</html>
